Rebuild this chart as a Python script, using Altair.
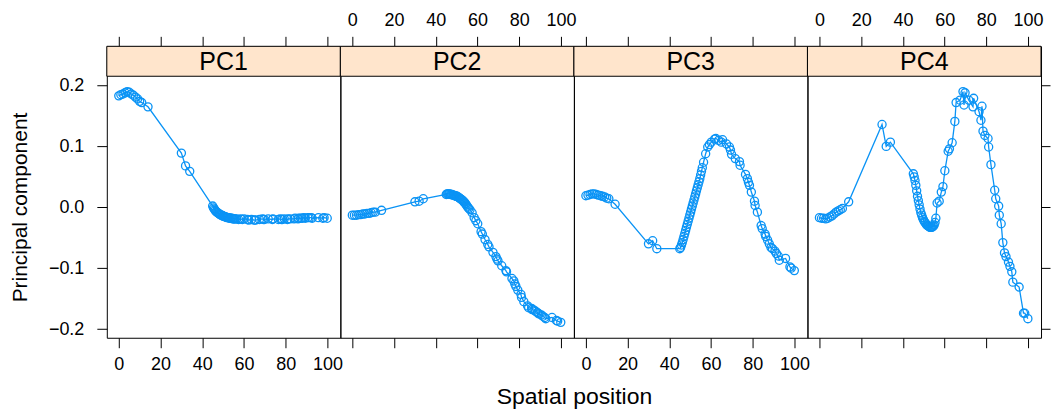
import altair as alt
import pandas as pd

# ---- data ----
panels = ["PC1", "PC2", "PC3", "PC4"]

positions = [0, 1, 2, 3, 4, 5, 6, 7, 8, 9, 10, 11,
             14,
             30, 32, 34,
             45.0, 45.4, 45.8, 46.2, 46.6, 47.0, 47.4, 47.8, 48.2, 48.6,
             49.0, 49.4, 49.8, 50.2, 50.6, 51.0, 51.4, 51.8, 52.2, 52.6,
             53.0, 53.4, 53.8, 54.2, 54.6, 55.0, 55.4, 55.8,
             56.4, 57.4, 58.4, 59.2, 60.1, 61.7, 62.3, 63.6, 64.9, 65.5,
             67.4, 68.8, 69.3, 69.8, 71.6, 73.6, 73.9, 76.5, 77.4, 77.9,
             78.4, 79.3, 80.8, 81.1, 82.2, 84.0, 84.5, 85.9, 86.2, 87.1,
             87.9, 88.7, 89.4, 90.6, 91.3, 92.2, 92.7, 95.7, 97.8, 98.4, 99.9]

pc1 = [0.183, 0.185, 0.186, 0.188, 0.190, 0.189, 0.186, 0.184, 0.181, 0.178, 0.174, 0.172,
       0.165,
       0.089, 0.068, 0.059,
       0.002, -0.001, -0.003, -0.005, -0.007, -0.008, -0.009, -0.010, -0.011, -0.012,
       -0.013, -0.013, -0.014, -0.015, -0.015, -0.016, -0.016, -0.017, -0.017, -0.017,
       -0.018, -0.018, -0.018, -0.018, -0.019, -0.019, -0.019, -0.019,
       -0.019, -0.020, -0.019, -0.020, -0.019, -0.020, -0.021, -0.020, -0.021, -0.021,
       -0.020, -0.019, -0.020, -0.020, -0.019, -0.020, -0.019, -0.020, -0.019, -0.020,
       -0.020, -0.019, -0.020, -0.019, -0.019, -0.019, -0.018, -0.019, -0.018, -0.018,
       -0.018, -0.017, -0.018, -0.017, -0.017, -0.017, -0.018, -0.017, -0.018, -0.017, -0.018]

pc2 = [-0.013, -0.013, -0.013, -0.012, -0.012, -0.011, -0.011, -0.010, -0.010, -0.009, -0.008, -0.008,
       -0.005,
       0.009, 0.010, 0.014,
       0.021, 0.022, 0.022, 0.022, 0.022, 0.021, 0.021, 0.021, 0.020, 0.020,
       0.019, 0.019, 0.018, 0.018, 0.017, 0.016, 0.015, 0.014, 0.013, 0.012,
       0.011, 0.009, 0.008, 0.006, 0.004, 0.002, 0.000, -0.002,
       -0.004, -0.009, -0.017, -0.022, -0.027, -0.040, -0.044, -0.053, -0.061, -0.065,
       -0.074, -0.081, -0.085, -0.088, -0.096, -0.104, -0.106, -0.117, -0.121, -0.126,
       -0.130, -0.136, -0.143, -0.148, -0.155, -0.162, -0.165, -0.166, -0.168, -0.169,
       -0.171, -0.173, -0.175, -0.177, -0.179, -0.181, -0.183, -0.181, -0.186, -0.187, -0.189]

pc3 = [0.019, 0.020, 0.021, 0.022, 0.022, 0.021, 0.020, 0.019, 0.018, 0.017, 0.015, 0.014,
       0.005,
       -0.060, -0.055, -0.068,
       -0.068, -0.066, -0.062, -0.058, -0.053, -0.048, -0.043, -0.038, -0.033, -0.028,
       -0.023, -0.018, -0.013, -0.008, -0.003, 0.002, 0.007, 0.012, 0.017, 0.022,
       0.027, 0.032, 0.037, 0.042, 0.047, 0.053, 0.059, 0.065,
       0.074, 0.088, 0.099, 0.103, 0.107, 0.112, 0.113, 0.110, 0.107, 0.111,
       0.104, 0.099, 0.094, 0.087, 0.080, 0.075, 0.069, 0.054, 0.047, 0.041,
       0.036, 0.025, 0.010, 0.003, -0.008, -0.030, -0.035, -0.044, -0.048, -0.054,
       -0.060, -0.066, -0.068, -0.072, -0.076, -0.080, -0.087, -0.084, -0.098, -0.100, -0.104]

pc4 = [-0.017, -0.018, -0.018, -0.019, -0.018, -0.016, -0.014, -0.011, -0.008, -0.006, -0.004, -0.002,
       0.009,
       0.136, 0.100, 0.107,
       0.055, 0.050, 0.044, 0.036, 0.027, 0.018, 0.011, 0.004, -0.003, -0.009,
       -0.013, -0.017, -0.020, -0.023, -0.025, -0.027, -0.029, -0.030, -0.031, -0.032,
       -0.033, -0.033, -0.033, -0.032, -0.031, -0.029, -0.025, -0.018,
       0.007, 0.010, 0.025, 0.034, 0.060, 0.092, 0.096, 0.106, 0.141, 0.172,
       0.176, 0.190, 0.168, 0.188, 0.176, 0.165, 0.179, 0.157, 0.143, 0.166,
       0.125, 0.118, 0.113, 0.099, 0.070, 0.028, 0.014, 0.002, -0.013, -0.027,
       -0.058, -0.075, -0.081, -0.090, -0.097, -0.106, -0.123, -0.131, -0.174, -0.174, -0.183]

series = [pc1, pc2, pc3, pc4]

x_ticks = [0, 20, 40, 60, 80, 100]
y_ticks = [-0.2, -0.1, 0.0, 0.1, 0.2]

# ---- styling ----
FONT = "Liberation Sans"
COL = "#0a93f5"
STRIP = "#ffe5cc"
W = 234
STRIP_H = 30
H = 292
X_DOM = [-5.74, 106.2]
Y_DOM = [-0.2143, 0.2644]
TICK = 10
LAB = 18


def make_panel(i, name, vals):
    df = pd.DataFrame({"pos": positions, "val": vals})
    base = alt.Chart(df)
    xs = alt.Scale(domain=X_DOM, nice=False, zero=False)
    ys = alt.Scale(domain=Y_DOM, nice=False, zero=False)

    bottom_kw = dict(orient="bottom", values=x_ticks, domain=False, grid=False,
                     tickSize=TICK, tickColor="black", labels=(i % 2 == 0),
                     labelFont=FONT, labelFontSize=LAB, labelColor="black",
                     labelPadding=8, title=None)
    if i == 1:
        bottom_kw.update(title="Spatial position", titleFont=FONT, titleFontSize=23,
                         titleFontWeight="normal", titleColor="black",
                         titleX=W, titleY=59, titleAlign="center",
                         titleBaseline="middle")
    bottom_axis = alt.Axis(**bottom_kw)
    top_axis = alt.Axis(orient="top", values=x_ticks, domain=False, grid=False,
                        tickSize=TICK, tickColor="black", labels=(i % 2 == 1),
                        labelFont=FONT, labelFontSize=LAB, labelColor="black",
                        labelPadding=7, title=None)

    if i == 0:
        y_axis = alt.Axis(orient="left", values=y_ticks, format=".1f", domain=False,
                          grid=False, tickSize=TICK, tickColor="black",
                          labelFont=FONT, labelFontSize=LAB, labelColor="black",
                          labelPadding=13,
                          title="Principal component", titleFont=FONT,
                          titleFontSize=21, titleFontWeight="normal",
                          titleColor="black", titleX=-86,
                          titleY=STRIP_H + (H - STRIP_H) / 2,
                          titleAlign="center", titleBaseline="middle", titleAngle=270)
    elif i == 3:
        y_axis = alt.Axis(orient="right", values=y_ticks, domain=False, grid=False,
                          tickSize=9, tickColor="black", labels=False, title=None)
    else:
        y_axis = None

    line = base.mark_line(color=COL, strokeWidth=1.3).encode(
        x=alt.X("pos:Q", scale=xs, axis=bottom_axis),
        y=alt.Y("val:Q", scale=ys, axis=y_axis),
        order="pos:Q",
    )
    pts = base.mark_point(shape="circle", filled=False, color=COL, size=66,
                          strokeWidth=1.3, opacity=1).encode(
        x=alt.X("pos:Q", scale=xs, axis=top_axis),
        y=alt.Y("val:Q", scale=ys, axis=None),
    )
    lab = alt.Data(values=[{"label": name}])
    strip = alt.Chart(lab).mark_rect(fill=STRIP, stroke="black", strokeWidth=1).encode(
        x=alt.value(0), x2=alt.value(W), y=alt.value(0), y2=alt.value(STRIP_H)
    )
    strip_txt = alt.Chart(lab).mark_text(font=FONT, fontSize=25, color="black",
                                         baseline="middle", align="center").encode(
        x=alt.value(W / 2), y=alt.value(STRIP_H / 2 + 1), text="label:N"
    )
    return alt.layer(strip, line, pts, strip_txt).resolve_axis(
        x="independent", y="independent"
    ).properties(width=W, height=H)


charts = [make_panel(i, n, s) for i, (n, s) in enumerate(zip(panels, series))]

chart = alt.hconcat(*charts, spacing=0, bounds="flush").configure_view(
    stroke="black", strokeWidth=1
).properties(
    padding={"left": 1, "top": 2, "right": 0, "bottom": 0},
    background="white",
)

chart.save("out.html", embed_options={"renderer": "svg", "actions": False})
